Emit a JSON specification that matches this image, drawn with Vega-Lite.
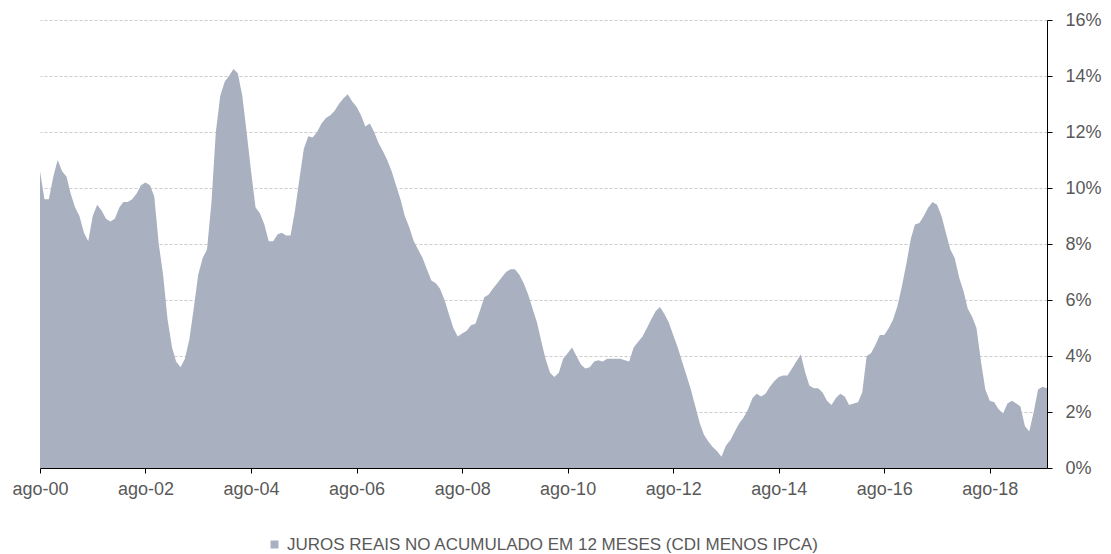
{
  "$schema": "https://vega.github.io/schema/vega-lite/v6.json",
  "autosize": {"type": "none"},
  "padding": {"left": 40, "top": 20, "right": 64, "bottom": 86},
  "width": 1007,
  "height": 448,
  "background": "white",
  "config": {"view": {"stroke": null}, "font": "Liberation Sans"},
  "data": {"values": [
    {"d":"2000-08-01","v":10.6},{"d":"2000-09-01","v":9.6},{"d":"2000-10-01","v":9.6},{"d":"2000-11-01","v":10.4},{"d":"2000-12-01","v":11.0},
    {"d":"2001-01-01","v":10.6},{"d":"2001-02-01","v":10.4},{"d":"2001-03-01","v":9.8},{"d":"2001-04-01","v":9.3},{"d":"2001-05-01","v":9.0},{"d":"2001-06-01","v":8.4},{"d":"2001-07-01","v":8.1},{"d":"2001-08-01","v":9.0},{"d":"2001-09-01","v":9.4},{"d":"2001-10-01","v":9.2},{"d":"2001-11-01","v":8.9},{"d":"2001-12-01","v":8.8},
    {"d":"2002-01-01","v":8.9},{"d":"2002-02-01","v":9.3},{"d":"2002-03-01","v":9.5},{"d":"2002-04-01","v":9.5},{"d":"2002-05-01","v":9.6},{"d":"2002-06-01","v":9.8},{"d":"2002-07-01","v":10.1},{"d":"2002-08-01","v":10.2},{"d":"2002-09-01","v":10.1},{"d":"2002-10-01","v":9.7},{"d":"2002-11-01","v":8.0},{"d":"2002-12-01","v":6.9},
    {"d":"2003-01-01","v":5.3},{"d":"2003-02-01","v":4.3},{"d":"2003-03-01","v":3.8},{"d":"2003-04-01","v":3.6},{"d":"2003-05-01","v":3.9},{"d":"2003-06-01","v":4.6},{"d":"2003-07-01","v":5.7},{"d":"2003-08-01","v":6.9},{"d":"2003-09-01","v":7.5},{"d":"2003-10-01","v":7.8},{"d":"2003-11-01","v":9.5},{"d":"2003-12-01","v":12.0},
    {"d":"2004-01-01","v":13.3},{"d":"2004-02-01","v":13.8},{"d":"2004-03-01","v":14.0},{"d":"2004-04-01","v":14.25},{"d":"2004-05-01","v":14.1},{"d":"2004-06-01","v":13.3},{"d":"2004-07-01","v":12.0},{"d":"2004-08-01","v":10.6},{"d":"2004-09-01","v":9.3},{"d":"2004-10-01","v":9.1},{"d":"2004-11-01","v":8.7},{"d":"2004-12-01","v":8.1},
    {"d":"2005-01-01","v":8.1},{"d":"2005-02-01","v":8.35},{"d":"2005-03-01","v":8.4},{"d":"2005-04-01","v":8.3},{"d":"2005-05-01","v":8.3},{"d":"2005-06-01","v":9.2},{"d":"2005-07-01","v":10.3},{"d":"2005-08-01","v":11.4},{"d":"2005-09-01","v":11.85},{"d":"2005-10-01","v":11.8},{"d":"2005-11-01","v":12.0},{"d":"2005-12-01","v":12.3},
    {"d":"2006-01-01","v":12.5},{"d":"2006-02-01","v":12.6},{"d":"2006-03-01","v":12.75},{"d":"2006-04-01","v":13.0},{"d":"2006-05-01","v":13.2},{"d":"2006-06-01","v":13.35},{"d":"2006-07-01","v":13.1},{"d":"2006-08-01","v":12.9},{"d":"2006-09-01","v":12.6},{"d":"2006-10-01","v":12.2},{"d":"2006-11-01","v":12.3},{"d":"2006-12-01","v":12.0},
    {"d":"2007-01-01","v":11.6},{"d":"2007-02-01","v":11.3},{"d":"2007-03-01","v":11.0},{"d":"2007-04-01","v":10.6},{"d":"2007-05-01","v":10.1},{"d":"2007-06-01","v":9.6},{"d":"2007-07-01","v":9.0},{"d":"2007-08-01","v":8.6},{"d":"2007-09-01","v":8.1},{"d":"2007-10-01","v":7.8},{"d":"2007-11-01","v":7.5},{"d":"2007-12-01","v":7.1},
    {"d":"2008-01-01","v":6.7},{"d":"2008-02-01","v":6.6},{"d":"2008-03-01","v":6.4},{"d":"2008-04-01","v":6.0},{"d":"2008-05-01","v":5.5},{"d":"2008-06-01","v":5.0},{"d":"2008-07-01","v":4.7},{"d":"2008-08-01","v":4.8},{"d":"2008-09-01","v":4.9},{"d":"2008-10-01","v":5.1},{"d":"2008-11-01","v":5.15},{"d":"2008-12-01","v":5.6},
    {"d":"2009-01-01","v":6.1},{"d":"2009-02-01","v":6.2},{"d":"2009-03-01","v":6.4},{"d":"2009-04-01","v":6.6},{"d":"2009-05-01","v":6.8},{"d":"2009-06-01","v":7.0},{"d":"2009-07-01","v":7.1},{"d":"2009-08-01","v":7.1},{"d":"2009-09-01","v":6.9},{"d":"2009-10-01","v":6.6},{"d":"2009-11-01","v":6.2},{"d":"2009-12-01","v":5.7},
    {"d":"2010-01-01","v":5.2},{"d":"2010-02-01","v":4.5},{"d":"2010-03-01","v":3.9},{"d":"2010-04-01","v":3.4},{"d":"2010-05-01","v":3.25},{"d":"2010-06-01","v":3.4},{"d":"2010-07-01","v":3.9},{"d":"2010-08-01","v":4.1},{"d":"2010-09-01","v":4.3},{"d":"2010-10-01","v":4.0},{"d":"2010-11-01","v":3.7},{"d":"2010-12-01","v":3.55},
    {"d":"2011-01-01","v":3.6},{"d":"2011-02-01","v":3.8},{"d":"2011-03-01","v":3.85},{"d":"2011-04-01","v":3.8},{"d":"2011-05-01","v":3.9},{"d":"2011-06-01","v":3.9},{"d":"2011-07-01","v":3.9},{"d":"2011-08-01","v":3.9},{"d":"2011-09-01","v":3.85},{"d":"2011-10-01","v":3.8},{"d":"2011-11-01","v":4.3},{"d":"2011-12-01","v":4.5},
    {"d":"2012-01-01","v":4.7},{"d":"2012-02-01","v":5.0},{"d":"2012-03-01","v":5.3},{"d":"2012-04-01","v":5.6},{"d":"2012-05-01","v":5.75},{"d":"2012-06-01","v":5.5},{"d":"2012-07-01","v":5.2},{"d":"2012-08-01","v":4.75},{"d":"2012-09-01","v":4.3},{"d":"2012-10-01","v":3.8},{"d":"2012-11-01","v":3.3},{"d":"2012-12-01","v":2.8},
    {"d":"2013-01-01","v":2.2},{"d":"2013-02-01","v":1.6},{"d":"2013-03-01","v":1.2},{"d":"2013-04-01","v":0.95},{"d":"2013-05-01","v":0.75},{"d":"2013-06-01","v":0.6},{"d":"2013-07-01","v":0.4},{"d":"2013-08-01","v":0.8},{"d":"2013-09-01","v":1.0},{"d":"2013-10-01","v":1.3},{"d":"2013-11-01","v":1.6},{"d":"2013-12-01","v":1.8},
    {"d":"2014-01-01","v":2.1},{"d":"2014-02-01","v":2.5},{"d":"2014-03-01","v":2.65},{"d":"2014-04-01","v":2.55},{"d":"2014-05-01","v":2.65},{"d":"2014-06-01","v":2.9},{"d":"2014-07-01","v":3.1},{"d":"2014-08-01","v":3.25},{"d":"2014-09-01","v":3.3},{"d":"2014-10-01","v":3.3},{"d":"2014-11-01","v":3.55},{"d":"2014-12-01","v":3.8},
    {"d":"2015-01-01","v":4.05},{"d":"2015-02-01","v":3.4},{"d":"2015-03-01","v":2.95},{"d":"2015-04-01","v":2.85},{"d":"2015-05-01","v":2.85},{"d":"2015-06-01","v":2.7},{"d":"2015-07-01","v":2.4},{"d":"2015-08-01","v":2.25},{"d":"2015-09-01","v":2.5},{"d":"2015-10-01","v":2.65},{"d":"2015-11-01","v":2.55},{"d":"2015-12-01","v":2.25},
    {"d":"2016-01-01","v":2.3},{"d":"2016-02-01","v":2.35},{"d":"2016-03-01","v":2.7},{"d":"2016-04-01","v":4.0},{"d":"2016-05-01","v":4.1},{"d":"2016-06-01","v":4.4},{"d":"2016-07-01","v":4.75},{"d":"2016-08-01","v":4.75},{"d":"2016-09-01","v":5.0},{"d":"2016-10-01","v":5.3},{"d":"2016-11-01","v":5.8},{"d":"2016-12-01","v":6.5},
    {"d":"2017-01-01","v":7.3},{"d":"2017-02-01","v":8.2},{"d":"2017-03-01","v":8.7},{"d":"2017-04-01","v":8.75},{"d":"2017-05-01","v":9.0},{"d":"2017-06-01","v":9.3},{"d":"2017-07-01","v":9.5},{"d":"2017-08-01","v":9.4},{"d":"2017-09-01","v":9.0},{"d":"2017-10-01","v":8.4},{"d":"2017-11-01","v":7.8},{"d":"2017-12-01","v":7.5},
    {"d":"2018-01-01","v":6.8},{"d":"2018-02-01","v":6.3},{"d":"2018-03-01","v":5.7},{"d":"2018-04-01","v":5.4},{"d":"2018-05-01","v":5.0},{"d":"2018-06-01","v":3.8},{"d":"2018-07-01","v":2.8},{"d":"2018-08-01","v":2.4},{"d":"2018-09-01","v":2.35},{"d":"2018-10-01","v":2.1},{"d":"2018-11-01","v":1.95},{"d":"2018-12-01","v":2.3},
    {"d":"2019-01-01","v":2.4},{"d":"2019-02-01","v":2.3},{"d":"2019-03-01","v":2.2},{"d":"2019-04-01","v":1.5},{"d":"2019-05-01","v":1.3},{"d":"2019-06-01","v":2.0},{"d":"2019-07-01","v":2.8},{"d":"2019-08-01","v":2.9},{"d":"2019-09-01","v":2.85}
  ]},
  "transform": [{"calculate": "'JUROS REAIS NO ACUMULADO EM 12 MESES (CDI MENOS IPCA)'", "as": "serie"}],
  "mark": {"type": "area", "opacity": 1},
  "encoding": {
    "x": {
      "field": "d", "type": "temporal",
      "scale": {"type": "utc", "domain": [{"year": 2000, "month": 8, "date": 1, "utc": true}, {"year": 2019, "month": 9, "date": 1, "utc": true}]},
      "axis": {
        "title": null,
        "values": [
          {"year": 2000, "month": 8, "date": 1, "utc": true},
          {"year": 2002, "month": 8, "date": 1, "utc": true},
          {"year": 2004, "month": 8, "date": 1, "utc": true},
          {"year": 2006, "month": 8, "date": 1, "utc": true},
          {"year": 2008, "month": 8, "date": 1, "utc": true},
          {"year": 2010, "month": 8, "date": 1, "utc": true},
          {"year": 2012, "month": 8, "date": 1, "utc": true},
          {"year": 2014, "month": 8, "date": 1, "utc": true},
          {"year": 2016, "month": 8, "date": 1, "utc": true},
          {"year": 2018, "month": 8, "date": 1, "utc": true}
        ],
        "labelExpr": "['jan','fev','mar','abr','mai','jun','jul','ago','set','out','nov','dez'][utcmonth(datum.value)] + '-' + utcFormat(datum.value, '%y')",
        "grid": false,
        "domainColor": "#000000",
        "domainWidth": 1,
        "tickColor": "#000000",
        "tickSize": 5,
        "labelFont": "Liberation Sans",
        "labelFontSize": 18,
        "labelColor": "#595959",
        "labelPadding": 7,
        "labelFlush": false,
        "labelOverlap": false
      }
    },
    "y": {
      "field": "v", "type": "quantitative",
      "scale": {"domain": [0, 16], "nice": false},
      "axis": {
        "orient": "right",
        "title": null,
        "values": [0, 2, 4, 6, 8, 10, 12, 14, 16],
        "labelExpr": "datum.value + '%'",
        "grid": true,
        "gridColor": "#cccccc",
        "gridDash": [3, 2],
        "gridWidth": 1,
        "domainColor": "#000000",
        "tickColor": "#000000",
        "tickSize": 5,
        "labelFont": "Liberation Sans",
        "labelFontSize": 18,
        "labelColor": "#595959",
        "labelPadding": 13,
        "labelBaseline": "middle"
      }
    },
    "color": {
      "field": "serie", "type": "nominal",
      "scale": {"range": ["#a9b0c0"]},
      "legend": {
        "title": null,
        "orient": "none",
        "legendX": 226,
        "legendY": 516,
        "symbolType": "square",
        "symbolSize": 64,
        "symbolStrokeWidth": 0,
        "labelFont": "Liberation Sans",
        "labelFontSize": 17,
        "labelColor": "#595959",
        "labelOffset": 4,
        "labelLimit": 1000
      }
    }
  }
}
